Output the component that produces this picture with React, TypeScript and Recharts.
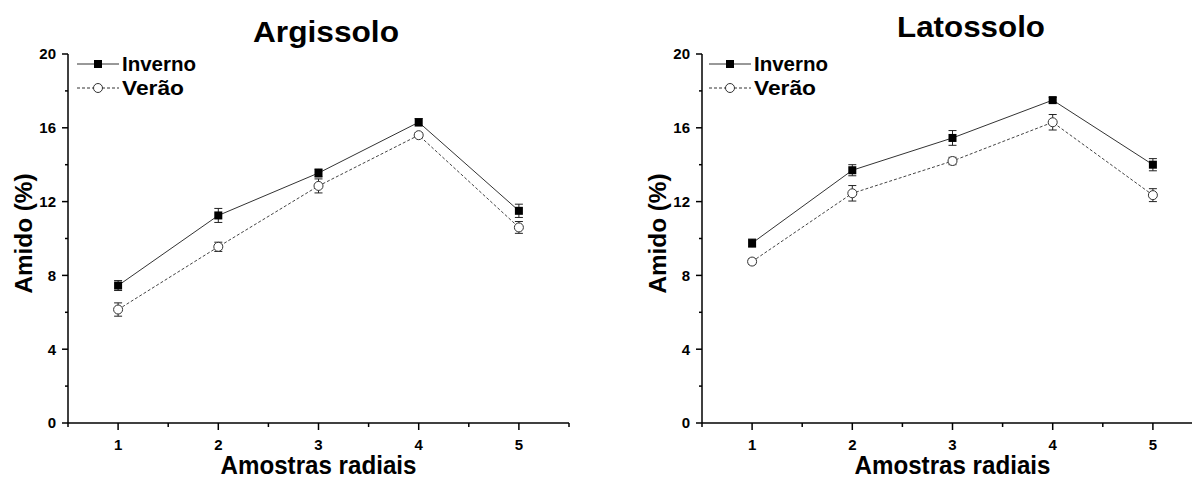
import { CartesianGrid, ErrorBar, Label, Legend, Line, LineChart, XAxis, YAxis } from "recharts";

// amostras radiais (eixo x)
const amostras = [1, 2, 3, 4, 5];

// Argissolo
const argInverno = [7.45, 11.25, 13.55, 16.3, 11.5];
const argInvernoErr = [0.27, 0.38, 0.22, 0.2, 0.36];
const argVerao = [6.15, 9.55, 12.85, 15.6, 10.6];
const argVeraoErr = [0.36, 0.25, 0.38, 0.12, 0.32];

// Latossolo
const latInverno = [9.75, 13.7, 15.45, 17.5, 14.0];
const latInvernoErr = [0.22, 0.3, 0.4, 0.15, 0.33];
const latVerao = [8.75, 12.45, 14.2, 16.3, 12.35];
const latVeraoErr = [0.15, 0.42, 0.2, 0.42, 0.35];

const xTicks = [0.5, 1, 1.5, 2, 2.5, 3, 3.5, 4, 4.5, 5, 5.5];
const yTicks = [0, 2, 4, 6, 8, 10, 12, 14, 16, 18, 20];

const FONT = '"Liberation Sans", Arial, sans-serif';

function montaDados(inv: number[], invErr: number[], ver: number[], verErr: number[]) {
  return amostras.map((x, i) => ({
    x,
    inverno: inv[i],
    invernoErr: invErr[i],
    verao: ver[i],
    veraoErr: verErr[i],
  }));
}

function YTick({ x, y, payload }: any) {
  const major = payload.value % 4 === 0;
  return (
    <g>
      <line x1={x - (major ? 6 : 3)} x2={x} y1={y} y2={y} stroke="#000" strokeWidth={1.5} />
      {major && (
        <text x={x - 12} y={y} dy="0.36em" textAnchor="end" fontSize={15} fontWeight="bold" fontFamily={FONT} fill="#000">
          {payload.value}
        </text>
      )}
    </g>
  );
}

function XTick({ x, y, payload }: any) {
  const major = Number.isInteger(payload.value);
  return (
    <g>
      <line x1={x} x2={x} y1={y} y2={y + (major ? 7 : 4)} stroke="#000" strokeWidth={1.5} />
      {major && (
        <text x={x} y={y + 27} textAnchor="middle" fontSize={15} fontWeight="bold" fontFamily={FONT} fill="#000">
          {payload.value}
        </text>
      )}
    </g>
  );
}

function SquareDot({ cx, cy }: any) {
  if (cx == null || cy == null) return null;
  return <rect x={cx - 4} y={cy - 4} width={8} height={8} fill="#000" />;
}

function CircleDot({ cx, cy }: any) {
  if (cx == null || cy == null) return null;
  return <circle cx={cx} cy={cy} r={4.5} fill="#fff" stroke="#333" strokeWidth={1} />;
}

function LegendBox({ payload }: any) {
  return (
    <svg width={130} height={50} style={{ display: "block", overflow: "visible" }}>
      {(payload || []).map((item: any, i: number) => {
        const cy = 12 + i * 24;
        const inv = item.dataKey === "inverno";
        return (
          <g key={item.value}>
            <line x1={0} x2={42} y1={cy} y2={cy} stroke="#333" strokeWidth={1} strokeDasharray={inv ? undefined : "3 2"} />
            {inv ? (
              <rect x={17} y={cy - 4} width={8} height={8} fill="#000" />
            ) : (
              <circle cx={21} cy={cy} r={4.5} fill="#fff" stroke="#333" strokeWidth={1} />
            )}
            <text x={45} y={cy + 7} fontSize={20} fontWeight="bold" fontFamily={FONT} fill="#000"
              textLength={inv ? 74 : 62} lengthAdjust="spacingAndGlyphs">
              {item.value}
            </text>
          </g>
        );
      })}
    </svg>
  );
}

function YLabel({ viewBox }: any) {
  const cx = viewBox.x + viewBox.width - 36;
  const cy = viewBox.y + viewBox.height / 2 - 5;
  return (
    <text transform={`translate(${cx},${cy}) rotate(-90)`} textAnchor="middle" fontSize={24} fontWeight="bold"
      fontFamily={FONT} fill="#000" textLength={120} lengthAdjust="spacingAndGlyphs">
      Amido (%)
    </text>
  );
}

function XLabel({ viewBox }: any) {
  return (
    <text x={viewBox.x + viewBox.width / 2} y={viewBox.y + 51} textAnchor="middle" fontSize={25} fontWeight="bold"
      fontFamily={FONT} fill="#000" textLength={196} lengthAdjust="spacingAndGlyphs">
      Amostras radiais
    </text>
  );
}

function Painel({ data, width, margin, legendLeft }: any) {
  return (
    <LineChart width={width} height={481} data={data} margin={margin}>
      <CartesianGrid stroke="none" />
      <XAxis
        dataKey="x"
        type="number"
        domain={[0.5, 5.5]}
        ticks={xTicks}
        interval={0}
        height={58}
        tickSize={0}
        tickMargin={0}
        tick={XTick}
        axisLine={{ stroke: "#000", strokeWidth: 1.5 }}
        tickLine={false}
      >
        <Label content={XLabel} />
      </XAxis>
      <YAxis
        type="number"
        domain={[0, 20]}
        ticks={yTicks}
        interval={0}
        width={68}
        tickSize={0}
        tickMargin={0}
        tick={YTick}
        axisLine={{ stroke: "#000", strokeWidth: 1.5 }}
        tickLine={false}
      >
        <Label content={YLabel} />
      </YAxis>
      <Legend
        content={LegendBox}
        layout="vertical"
        align="center"
        verticalAlign="middle"
        wrapperStyle={{ left: legendLeft, top: 52, width: 130, height: 50 }}
      />
      <Line
        dataKey="inverno"
        name="Inverno"
        stroke="#333"
        strokeWidth={1}
        dot={SquareDot}
        activeDot={false}
        isAnimationActive={false}
      >
        <ErrorBar dataKey="invernoErr" direction="y" width={4} stroke="#222" strokeWidth={1} />
      </Line>
      <Line
        dataKey="verao"
        name="Verão"
        stroke="#444"
        strokeWidth={1}
        strokeDasharray="3 2"
        dot={CircleDot}
        activeDot={false}
        isAnimationActive={false}
      >
        <ErrorBar dataKey="veraoErr" direction="y" width={4} stroke="#222" strokeWidth={1} />
      </Line>
    </LineChart>
  );
}

export default function App() {
  const dadosArg = montaDados(argInverno, argInvernoErr, argVerao, argVeraoErr);
  const dadosLat = montaDados(latInverno, latInvernoErr, latVerao, latVeraoErr);

  return (
    <div style={{ position: "relative", width: 1192, height: 481, overflow: "hidden", background: "#fff", fontFamily: FONT }}>
      <style>{"body{margin:0}"}</style>
      <div style={{ position: "absolute", left: 0, top: 0 }}>
        <Painel data={dadosArg} width={600} margin={{ top: 54, right: 31, bottom: 0, left: 0 }} legendLeft={77} />
      </div>
      <div style={{ position: "absolute", left: 600, top: 0 }}>
        <Painel data={dadosLat} width={620} margin={{ top: 54, right: 17, bottom: 0, left: 34 }} legendLeft={109} />
      </div>
      <svg width={1192} height={481} style={{ position: "absolute", left: 0, top: 0, pointerEvents: "none" }}>
        <text x={326} y={42} textAnchor="middle" fontSize={29} fontWeight="bold" fontFamily={FONT} fill="#000"
          textLength={146} lengthAdjust="spacingAndGlyphs">
          Argissolo
        </text>
        <text x={971} y={37} textAnchor="middle" fontSize={29} fontWeight="bold" fontFamily={FONT} fill="#000"
          textLength={148} lengthAdjust="spacingAndGlyphs">
          Latossolo
        </text>
      </svg>
    </div>
  );
}
